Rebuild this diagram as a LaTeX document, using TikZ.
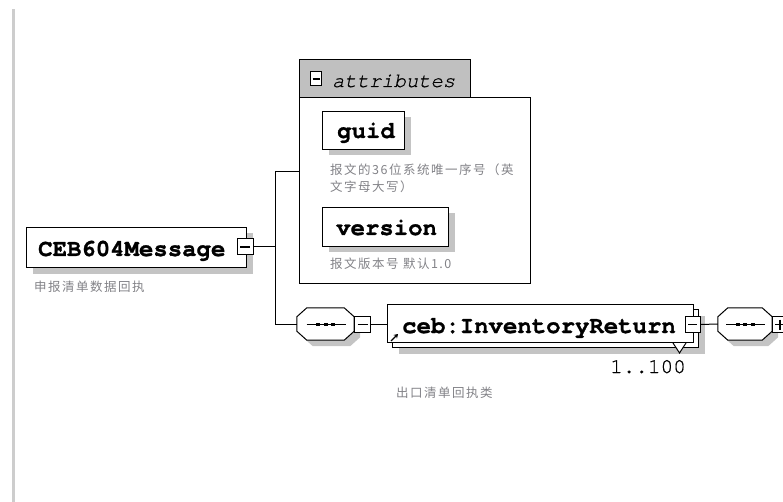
\documentclass[tikz,border=0pt]{standalone}
\usepackage{fontspec}
\setmonofont{TeX Gyre Cursor}
\newfontfamily\elemfont[FakeBold=1.2]{TeX Gyre Cursor Bold}
\newfontfamily\thinmono[FakeBold=0.6]{TeX Gyre Cursor}
\newfontfamily\thinmonoit[FakeBold=0.6]{TeX Gyre Cursor Italic}
\newfontfamily\cjk[LetterSpace=12]{Noto Sans CJK SC}
\usetikzlibrary{shadows,arrows.meta}
\definecolor{shd}{RGB}{196,196,196}
\definecolor{desc}{RGB}{130,130,135}
\definecolor{tabgray}{RGB}{192,192,192}
\definecolor{barc}{RGB}{205,205,205}
\newcommand{\octshape}[2]{%
  \path[#2] ([xshift=10pt]#1.north west) -- ([xshift=-10pt]#1.north east)
    -- ([yshift=-9pt]#1.north east) -- ([yshift=9pt]#1.south east)
    -- ([xshift=-10pt]#1.south east) -- ([xshift=10pt]#1.south west)
    -- ([yshift=9pt]#1.south west) -- ([yshift=-9pt]#1.north west) -- cycle;}
\newcommand{\seqdots}[1]{%
  \draw[line width=1pt] ([xshift=-19pt]#1.center) -- ([xshift=20pt]#1.center);
  \foreach \dx in {-7.5,0,7.5}{\fill ([xshift=\dx pt]#1.center) +(-2,-1.5) rectangle +(2,1.5);}}
\begin{document}
\begin{tikzpicture}[x=1pt,y=-1pt,
  elem/.style={draw, fill=white, line width=1pt, inner sep=0, anchor=north west,
    general shadow={fill=shd, shadow xshift=6pt, shadow yshift=-6pt}},
  plainbox/.style={draw, fill=white, line width=1pt, inner sep=0, anchor=north west},
  elabel/.style={inner sep=0, anchor=base west, font=\elemfont\fontsize{24}{24}\selectfont},
  desctext/.style={inner sep=0, anchor=west, text=desc, font=\cjk\fontsize{12.5}{17}\selectfont, align=left},
  minusbox/.style={draw, fill=white, line width=1pt, minimum width=16, minimum height=16, inner sep=0,
    path picture={\draw[line width=1.2pt] ([xshift=3pt]path picture bounding box.west) -- ([xshift=-3pt]path picture bounding box.east);}},
  plusbox/.style={minusbox, path picture={
    \draw[line width=1.2pt] ([xshift=3pt]path picture bounding box.west) -- ([xshift=-3pt]path picture bounding box.east);
    \draw[line width=1.2pt] ([yshift=-3pt]path picture bounding box.north) -- ([yshift=3pt]path picture bounding box.south);}},
  seqnode/.style={inner sep=0, minimum width=57, minimum height=32},
  conn/.style={line width=1pt}
]
\useasboundingbox (0,0) rectangle (783,502);
% left bar
\fill[barc] (12,9) rectangle (15,502);

% attributes group
\node[plainbox, fill=none, minimum width=231, minimum height=186] (attrs) at (299,97) {};
\node[plainbox, fill=tabgray, minimum width=171, minimum height=38] (attrtab) at (299,59) {};
\node[minusbox, minimum width=11, minimum height=14,
  path picture={\draw[line width=1.2pt] ([xshift=2pt]path picture bounding box.west) -- ([xshift=-2pt]path picture bounding box.east);}] (attrm) at (316,79) {};
\node[inner sep=0, anchor=base west, font=\thinmonoit\fontsize{20.5}{20.5}\selectfont] (attrlbl) at (332,87) {attributes};

% guid
\node[elem, minimum width=82, minimum height=38] (guid) at (322,111) {};
\node[elabel] (guidlbl) at (337,138) {guid};
\node[desctext] (guiddesc) at (330,178.5) {报文的36位系统唯一序号（英\\文字母大写）};

% version
\node[elem, minimum width=126, minimum height=39] (version) at (322,207) {};
\node[elabel] (versionlbl) at (336,235) {version};
\node[desctext] (versiondesc) at (330,264) {报文版本号 默认1.0};

% root element
\node[elem, minimum width=220, minimum height=40] (root) at (26,227) {};
\node[elabel] (rootlbl) at (38,256) {CEB604Message};
\node[minusbox] (rootm) at (245,247) {};
\node[desctext] (rootdesc) at (34,287) {申报清单数据回执};

% sequence 1
\node[seqnode] (seq1) at (325.5,324) {};
\octshape{seq1}{fill=shd, transform canvas={xshift=6pt,yshift=-6pt}}
\octshape{seq1}{draw, fill=white, line width=1pt}
\seqdots{seq1}
\node[minusbox] (seq1m) at (362.5,324.5) {};

% InventoryReturn
\node[elem, minimum width=306, minimum height=38] (invback) at (392,309) {};
\node[plainbox, minimum width=306, minimum height=38] (inv) at (387,304) {};
\node[elabel] (invlbl) at (402,333) {ceb:InventoryReturn};
\draw[line width=1.3pt, -{Stealth[length=4pt,width=5pt]}] ([xshift=4pt,yshift=2pt]inv.south west) -- ++(7,-7);
\filldraw[fill=white, line width=1pt] ([xshift=-21pt]inv.south east) -- ++(6.5,10) -- ++(6.5,-10);
\node[minusbox, minimum width=15] (invm) at (692.5,324.5) {};
\node[inner sep=0, anchor=base east, font=\thinmono\fontsize{21}{21}\selectfont] (mult) at (686,373) {1..100};
\node[desctext] (invdesc) at (396,393) {出口清单回执类};

% sequence 2
\node[seqnode, minimum width=54] (seq2) at (745,324) {};
\octshape{seq2}{fill=shd, transform canvas={xshift=6pt,yshift=-6pt}}
\octshape{seq2}{draw, fill=white, line width=1pt}
\seqdots{seq2}
\node[plusbox] (seq2p) at (780,324.5) {};

% connectors
\coordinate (j1) at (275,172);
\coordinate (j2) at (275,324);
\draw[conn] (rootm.east) -- (rootm.east -| j1);
\draw[conn] (j1 -| attrs.west) -- (j1) -- (j2) -- (seq1.west);
\draw[conn] (seq1m.east) -- (seq1m.east -| inv.west);
\draw[conn] (invm.east) -- (seq2.west);
\end{tikzpicture}
\end{document}
